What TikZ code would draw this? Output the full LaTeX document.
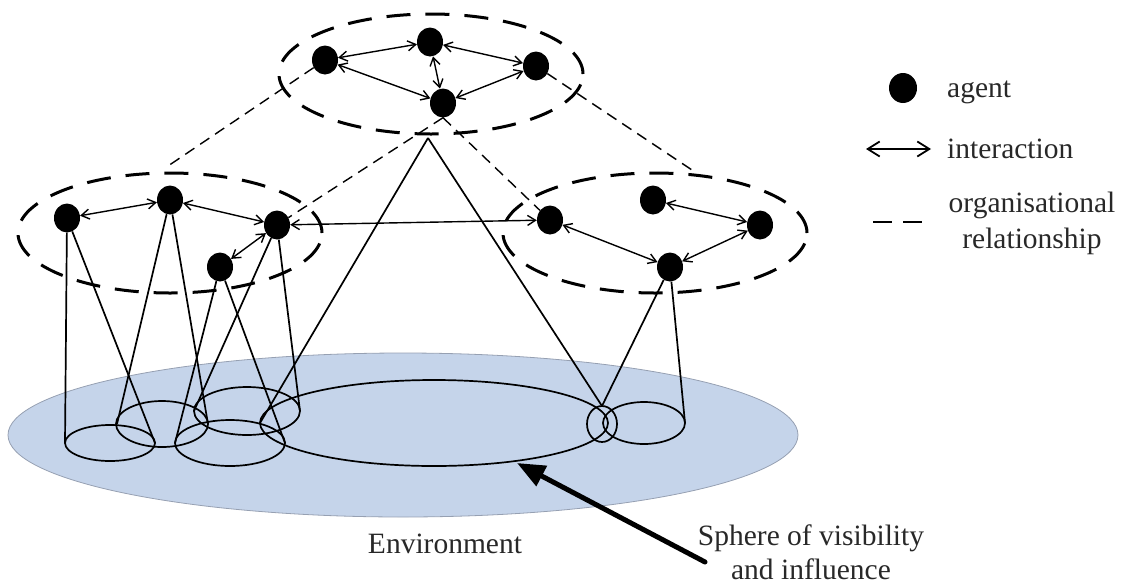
\documentclass[tikz,border=0pt]{standalone}
\usepackage{fontspec}
\setmainfont{Liberation Serif}
\usetikzlibrary{arrows.meta,shapes.geometric}
\definecolor{envblue}{RGB}{197,212,234}
\definecolor{envedge}{RGB}{150,160,178}
\definecolor{textgray}{RGB}{40,40,40}
\begin{document}
\begin{tikzpicture}[x=1pt,y=-1pt,
  agent/.style={ellipse, fill=black, minimum width=26pt, minimum height=29pt, inner sep=0pt},
  gnd/.style={line width=1.7pt, black},
  inter/.style={line width=1.4pt, {Straight Barb[length=8pt,width=10pt]}-{Straight Barb[length=8pt,width=10pt]}},
  orgline/.style={line width=1.4pt, dash pattern=on 11pt off 7pt},
  grpline/.style={line width=3pt, dash pattern=on 24pt off 15pt},
  lbl/.style={font=\fontsize{29.5pt}{36pt}\selectfont, inner sep=0pt, text=textgray}]
\useasboundingbox (0,0) rectangle (1122,587);
% environment
\filldraw[fill=envblue, draw=envedge, line width=0.8pt] (403,435) ellipse [x radius=395pt, y radius=82pt];
% agents
\node[agent] (A1) at (325,60) {};
\node[agent] (A2) at (430,42) {};
\node[agent] (A3) at (536,66) {};
\node[agent] (A4) at (443,103) {};
\node[agent] (B1) at (67,218) {};
\node[agent] (B2) at (170,200) {};
\node[agent] (B3) at (277,225) {};
\node[agent] (B4) at (220,267) {};
\node[agent] (C1) at (550,220) {};
\node[agent] (C2) at (653,200) {};
\node[agent] (C3) at (760,225) {};
\node[agent] (C4) at (670,267) {};
% ground coordinates
\coordinate (apex) at (428,138);
\coordinate (e1l) at (65,443); \coordinate (e1r) at (155,443);
\coordinate (e2l) at (117,424); \coordinate (e2r) at (208,424);
\coordinate (e3l) at (175,443); \coordinate (e3r) at (285,443);
\coordinate (e4l) at (194,411); \coordinate (e4r) at (300,411);
\coordinate (bgl) at (260,423); \coordinate (tdtop) at (602,406);
\coordinate (e5r) at (685,423);
% ground ellipses
\draw[gnd] (110,443) ellipse [x radius=45pt, y radius=18pt];
\draw[gnd] (162,424) ellipse [x radius=46pt, y radius=23pt];
\draw[gnd] (230,443) ellipse [x radius=55pt, y radius=23pt];
\draw[gnd] (247,411) ellipse [x radius=53pt, y radius=24pt];
\draw[gnd] (434,423) ellipse [x radius=174pt, y radius=43pt];
\draw[gnd] (602,424) ellipse [x radius=15pt, y radius=18pt];
\draw[gnd] (644,423) ellipse [x radius=41pt, y radius=21pt];
% cones
\draw[gnd] (B1) -- (e1l);
\draw[gnd] (B1) -- (e1r);
\draw[gnd] (B2) -- (e2l);
\draw[gnd] (B2) -- (e2r);
\draw[gnd] (B4) -- (e3l);
\draw[gnd] (B4) -- (e3r);
\draw[gnd] (B3) -- (e4l);
\draw[gnd] (B3) -- (e4r);
\draw[gnd] (apex) -- (bgl);
\draw[gnd] (apex) -- (tdtop);
\draw[gnd] (C4) -- (tdtop);
\draw[gnd] (C4) -- (e5r);
% organisational relationships
\coordinate (lo1) at (168,166);
\coordinate (ro1) at (695,172);
\draw[orgline] (A1) -- (lo1);
\draw[orgline] (A4.south) -- (B3);
\draw[orgline] (A4.south) -- (C1);
\draw[orgline] (A3) -- (ro1);
% groups
\draw[grpline] (431,74) ellipse [x radius=152pt, y radius=60pt];
\draw[grpline] (170,233) ellipse [x radius=152pt, y radius=60pt];
\draw[grpline] (655,233) ellipse [x radius=152pt, y radius=60pt];
% interactions
\draw[inter] (A1) -- (A2);
\draw[inter] (A2) -- (A3);
\draw[inter] (A2) -- (A4);
\draw[inter] (A1) -- (A4);
\draw[inter] (A4) -- (A3);
\draw[inter] (B1) -- (B2);
\draw[inter] (B2) -- (B3);
\draw[inter] (B3) -- (B4);
\draw[inter] (B3) -- (C1);
\draw[inter] (C1) -- (C4);
\draw[inter] (C2) -- (C3);
\draw[inter] (C3) -- (C4);
% sphere arrow
\coordinate (tail) at (705,562);
\coordinate (tip) at (517,463);
\draw[line width=5pt, line cap=round, -{Triangle[length=28pt,width=22pt]}] (tail) -- (tip);
% legend
\node[agent, minimum width=28pt, minimum height=30pt] (L) at (903,88) {};
\coordinate (la) at (866,149); \coordinate (lb) at (931,149);
\draw[line width=1.8pt, {Straight Barb[length=12pt,width=15pt]}-{Straight Barb[length=12pt,width=15pt]}] (la) -- (lb);
\coordinate (lc) at (873,222); \coordinate (ld) at (922,222);
\draw[line width=2pt, dash pattern=on 19pt off 11pt] (lc) -- (ld);
% labels
\node[lbl, anchor=base west] (tagent) at (947,97) {agent};
\node[lbl, anchor=base west] (tinter) at (947,158) {interaction};
\node[lbl, anchor=base, align=center] (torg) at (1032,248) {organisational\\relationship};
\node[lbl, anchor=base] (tenv) at (445,553) {Environment};
\node[lbl, anchor=base, align=center, font=\fontsize{29.5pt}{34pt}\selectfont] (tsph) at (811,579) {Sphere of visibility\\and influence};
\end{tikzpicture}
\end{document}
